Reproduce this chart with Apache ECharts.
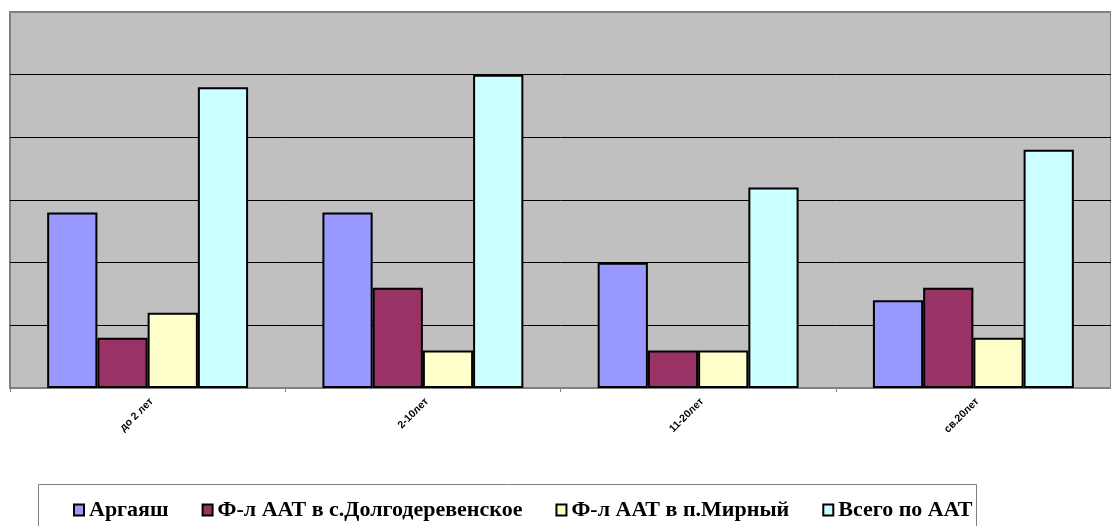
<!DOCTYPE html>
<html><head><meta charset="utf-8">
<script src="https://cdn.jsdelivr.net/npm/echarts@6/dist/echarts.min.js"></script>
<style>html,body{margin:0;padding:0;background:#fff}#c{width:1111px;height:526px}</style>
</head><body><div id="c"></div>
<script>
const categories = ['до 2 лет', '2-10лет', '11-20лет', 'св.20лет'];
const seriesNames = ['Аргаяш', 'Ф-л ААТ в с.Долгодеревенское', 'Ф-л ААТ в п.Мирный', 'Всего по ААТ'];
const argayash = [14, 14, 10, 7];
const dolgoderevenskoe = [4, 8, 3, 8];
const mirny = [6, 3, 3, 4];
const total = [24, 25, 16, 19];
const colors = ['#9999FF', '#993366', '#FFFFCC', '#CCFFFF'];
const values = [argayash, dolgoderevenskoe, mirny, total];

const chart = echarts.init(document.getElementById('c'));
chart.setOption({
  animation: false,
  backgroundColor: '#fff',
  grid: { left: 10, top: 12, width: 1112, height: 376, show: true, backgroundColor: '#C0C0C0', borderColor: '#808080', borderWidth: 2 },
  xAxis: {
    type: 'category', data: categories,
    axisLine: { lineStyle: { color: '#808080', width: 1 } },
    axisTick: { show: true, length: 4, lineStyle: { color: '#808080' } },
    axisLabel: { rotate: 45, interval: 0, margin: 8, color: '#000', fontSize: 10.5, fontWeight: 'bold', fontFamily: 'Liberation Sans', verticalAlign: 'top' }
  },
  yAxis: {
    type: 'value', min: 0, max: 30, interval: 5,
    axisLine: { show: false }, axisTick: { show: false }, axisLabel: { show: false },
    splitLine: { show: true, showMinLine: false, showMaxLine: false, lineStyle: { color: '#000', width: 1 } }
  },
  legend: {
    left: 73, top: 499, padding: 0, itemWidth: 10, itemHeight: 11, itemGap: 33, icon: 'rect',
    textStyle: { fontFamily: 'Liberation Serif', fontWeight: 'bold', fontSize: 22, color: '#000', padding: [0,0,0,0] },
    data: seriesNames
  },
  graphic: [{ type: 'rect', shape: { x: 38.5, y: 484.5, width: 938, height: 60 }, style: { fill: 'none', stroke: '#808080', lineWidth: 1 }, silent: true, z: -1 }],
  series: seriesNames.map((n, i) => ({
    name: n, type: 'bar', data: values[i], barGap: '0%', barCategoryGap: '27%',
    itemStyle: { color: colors[i], borderColor: '#000', borderWidth: 2 }
  }))
});
</script></body></html>
